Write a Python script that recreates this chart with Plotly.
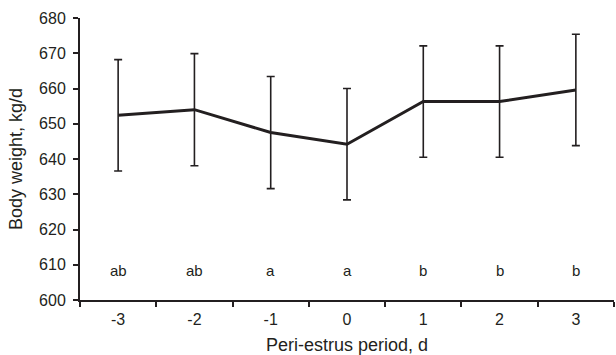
import plotly.graph_objects as go

days = ["-3", "-2", "-1", "0", "1", "2", "3"]
body_weight = [652.4, 654.0, 647.5, 644.2, 656.3, 656.3, 659.6]
se = [15.8, 15.9, 15.9, 15.8, 15.8, 15.8, 15.8]
letters = ["ab", "ab", "a", "a", "b", "b", "b"]
letter_y = 608.5

INK = "#231f20"
FONT = "Liberation Sans, Arial, sans-serif"

fig = go.Figure()
fig.add_trace(go.Scatter(
    x=days, y=body_weight, mode="lines",
    line=dict(color=INK, width=3),
    error_y=dict(type="data", array=se, visible=True, color=INK, thickness=1.6, width=4),
    showlegend=False,
))
for i, l in enumerate(letters):
    fig.add_annotation(x=i, y=letter_y, text=l, showarrow=False,
                       font=dict(family=FONT, size=15, color=INK))

fig.update_layout(
    width=616, height=355,
    margin=dict(l=80, r=2, t=18, b=55),
    paper_bgcolor="white", plot_bgcolor="white",
    font=dict(family=FONT, size=16, color=INK),
)
fig.update_xaxes(
    type="category", range=[-0.5, 6.5],
    showline=True, linecolor=INK, linewidth=2,
    ticks="outside", tickson="boundaries", ticklen=5, tickwidth=1.6, tickcolor=INK,
    ticklabelstandoff=4,
    showgrid=False, zeroline=False,
    title=dict(text="Peri-estrus period, d", font=dict(size=18), standoff=12),
)
fig.update_yaxes(
    range=[600, 680], dtick=10,
    showline=True, linecolor=INK, linewidth=2,
    ticks="outside", ticklen=5, tickwidth=1.6, tickcolor=INK,
    ticklabelstandoff=4,
    showgrid=False, zeroline=False,
    title=dict(text="Body weight, kg/d", font=dict(size=18), standoff=12),
)

fig.write_html("out.html")
